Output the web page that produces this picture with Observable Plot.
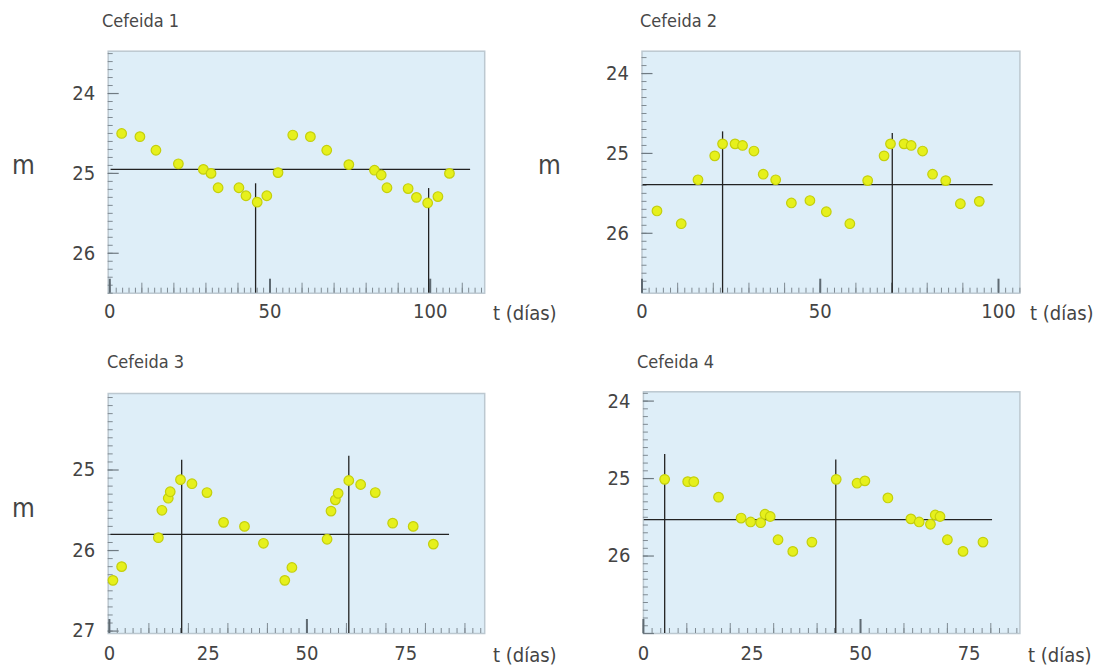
<!DOCTYPE html>
<html><head><meta charset="utf-8">
<script src="https://cdn.jsdelivr.net/npm/d3@7"></script>
<script src="https://cdn.jsdelivr.net/npm/@observablehq/plot@0.6"></script>
<style>
body{margin:0;background:#fff;}
#chart{position:relative;width:1102px;height:667px;overflow:hidden;font-family:"DejaVu Sans Condensed","DejaVu Sans",sans-serif;font-stretch:condensed;color:#3c3c3c;}
.panel{position:absolute;}
.lbl{position:absolute;white-space:nowrap;line-height:1;transform:translateY(-50%);}
.title{font-size:18px;color:#484848;}
.ylab{font-size:26px;color:#444;}
.xlab{font-size:20px;color:#444;}
</style></head><body><div id="chart"></div>
<script>
// ---- data ----
const titles = ["Cefeida 1", "Cefeida 2", "Cefeida 3", "Cefeida 4"];
const yAxisLabel = "m";
const xAxisLabel = "t (días)";

const t1 = [3.7, 9.4, 14.4, 21.4, 29.2, 31.6, 33.8, 40.3, 42.5, 46.0, 49.0, 52.5, 57.1, 62.6, 67.7, 74.6, 82.6, 84.7, 86.5, 93.1, 95.7, 99.2, 102.4, 106.0];
const m1 = [24.50, 24.54, 24.71, 24.88, 24.95, 25.00, 25.18, 25.18, 25.28, 25.36, 25.28, 24.99, 24.52, 24.54, 24.71, 24.89, 24.96, 25.02, 25.18, 25.19, 25.30, 25.37, 25.29, 25.00];

const t2 = [4.2, 11.0, 15.7, 20.4, 22.6, 26.1, 28.2, 31.4, 34.0, 37.5, 41.9, 47.1, 51.7, 58.3, 63.3, 67.9, 69.7, 73.5, 75.5, 78.7, 81.5, 85.2, 89.3, 94.6];
const m2 = [25.72, 25.88, 25.33, 25.03, 24.88, 24.88, 24.90, 24.97, 25.26, 25.33, 25.62, 25.59, 25.73, 25.88, 25.34, 25.03, 24.88, 24.88, 24.90, 24.97, 25.26, 25.34, 25.63, 25.60];

const t3 = [0.9, 3.1, 12.4, 13.3, 14.9, 15.4, 18.0, 20.9, 24.7, 28.9, 34.2, 39.0, 44.4, 46.2, 55.1, 56.1, 57.2, 57.9, 60.6, 63.6, 67.3, 71.7, 76.9, 82.0];
const m3 = [26.37, 26.20, 25.84, 25.50, 25.35, 25.27, 25.12, 25.17, 25.28, 25.65, 25.70, 25.91, 26.37, 26.21, 25.86, 25.51, 25.37, 25.29, 25.13, 25.18, 25.28, 25.66, 25.70, 25.92];

const t4 = [4.9, 10.2, 11.6, 17.3, 22.5, 24.7, 27.0, 28.0, 29.2, 31.0, 34.4, 38.8, 44.4, 49.2, 51.0, 56.3, 61.6, 63.5, 66.1, 67.2, 68.3, 70.0, 73.6, 78.2];
const m4 = [25.01, 25.04, 25.04, 25.24, 25.51, 25.56, 25.57, 25.46, 25.49, 25.79, 25.94, 25.82, 25.01, 25.06, 25.03, 25.25, 25.52, 25.56, 25.59, 25.47, 25.49, 25.79, 25.94, 25.82];

// mean magnitude line: [m, t start, t end]
const meanLine1 = [24.95, 0.4, 112.6];
const meanLine2 = [25.39, 0.3, 98.5];
const meanLine3 = [25.80, 0.4, 86.1];
const meanLine4 = [25.53, 0.2, 80.4];

// period markers: t position and top magnitude
const markT1 = [45.5, 99.5], markM1 = [25.13, 25.19];
const markT2 = [22.6, 70.2], markM2 = [24.73, 24.75];
const markT3 = [18.3, 60.6], markM3 = [24.88, 24.83];
const markT4 = [4.9, 44.3],  markM4 = [24.69, 24.76];

const xDomain1 = [-0.5, 117], yDomain1 = [23.47, 26.5];
const xDomain2 = [0, 106],    yDomain2 = [23.72, 26.75];
const xDomain3 = [-0.3, 95],  yDomain3 = [24.05, 27.03];
const xDomain4 = [0, 86.7],   yDomain4 = [23.88, 27.0];

const xTicks12 = [0, 50, 100];
const xTicks34 = [0, 25, 50, 75];
const yTicks1 = [24, 25, 26], yTicks2 = [24, 25, 26], yTicks3 = [25, 26, 27], yTicks4 = [24, 25, 26];

// ---- layout ----
const panels = [
  {t: t1, m: m1, mean: meanLine1, mt: markT1, mm: markM1, xd: xDomain1, yd: yDomain1, xt: xTicks12, yt: yTicks1,
   box: [0, 0, 551, 333], mg: [50.7, 66.8, 40.3, 107.7], pad: 11,
   title: [102, 21], mlab: [12, 165], tlab: [493, 313]},
  {t: t2, m: m2, mean: meanLine2, mt: markT2, mm: markM2, xd: xDomain2, yd: yDomain2, xt: xTicks12, yt: yTicks2,
   box: [551, 0, 551, 333], mg: [50.7, 82.6, 40.3, 90.5], pad: 11,
   title: [640, 21], mlab: [538, 165], tlab: [1030, 313]},
  {t: t3, m: m3, mean: meanLine3, mt: markT3, mm: markM3, xd: xDomain3, yd: yDomain3, xt: xTicks34, yt: yTicks3,
   box: [0, 333, 551, 334], mg: [60, 66.8, 34, 107.7], pad: 12,
   title: [107, 362], mlab: [12, 508], tlab: [493, 655]},
  {t: t4, m: m4, mean: meanLine4, mt: markT4, mm: markM4, xd: xDomain4, yd: yDomain4, xt: xTicks34, yt: yTicks4,
   box: [551, 333, 551, 334], mg: [58.3, 82.6, 34, 91.9], pad: 12,
   title: [637, 362], mlab: null, tlab: [1028, 655]}
];

const chart = document.getElementById("chart");
const fontFam = '"DejaVu Sans Condensed","DejaVu Sans",sans-serif';

function range(a, b, step) {
  const out = [];
  for (let v = Math.ceil(a / step - 1e-9) * step; v <= b + 1e-9; v += step) out.push(+v.toFixed(4));
  return out;
}

panels.forEach((p, i) => {
  const [left, top, W, H] = p.box;
  const [mt, mr, mb, ml] = p.mg;
  const fw = W - ml - mr, fh = H - mt - mb;
  const dots = p.t.map((t, k) => ({t, m: p.m[k]}));
  const marks = p.mt.map((t, k) => ({t, m: p.mm[k]}));
  const mean = [{m: p.mean[0], t1: p.mean[1], t2: p.mean[2]}];
  const yLo = Math.min(...p.yd), yHi = Math.max(...p.yd);
  const xLo = Math.min(...p.xd), xHi = Math.max(...p.xd);
  const yMinor = range(yLo, yHi, 0.1);
  const yMajor = range(yLo, yHi, 1);
  const xMinor = range(xLo, xHi, 2);
  const xMid = range(xLo, xHi, 10);
  const xMajor = range(xLo, xHi, 50);

  const svg = Plot.plot({
    width: W, height: H,
    marginTop: mt, marginRight: mr, marginBottom: mb, marginLeft: ml,
    x: {domain: p.xd, label: null},
    y: {domain: p.yd, reverse: true, label: null},
    style: {background: "transparent", fontFamily: fontFam, fontSize: "20px", color: "#444", overflow: "visible"},
    marks: [
      Plot.frame({fill: "#deeef8", stroke: "#bcc8d0", strokeWidth: 1.5}),
      Plot.ruleY(yMinor, {y: d => d, stroke: "#7f8a92", strokeWidth: 1, insetRight: fw - 5}),
      Plot.ruleY(yMajor, {y: d => d, stroke: "#6f7a82", strokeWidth: 1.2, insetRight: fw - 11}),
      Plot.ruleX(xMinor, {x: d => d, stroke: "#7f8a92", strokeWidth: 1, insetTop: fh - 5}),
      Plot.ruleX(xMid, {x: d => d, stroke: "#7f8a92", strokeWidth: 1, insetTop: fh - 10}),
      Plot.ruleX(xMajor, {x: d => d, stroke: "#5f6a72", strokeWidth: 2, insetTop: fh - 14}),
      Plot.axisX(p.xt, {tickSize: 0, tickPadding: p.pad, label: null, fontSize: 20, tickFormat: d3.format("d")}),
      Plot.axisY(p.yt, {tickSize: 0, tickPadding: 13, label: null, fontSize: 20, tickFormat: d3.format("d")}),
      Plot.ruleY(mean, {y: "m", x1: "t1", x2: "t2", stroke: "#222", strokeWidth: 1.3}),
      Plot.ruleX(marks, {x: "t", y1: "m", y2: () => yHi, stroke: "#222", strokeWidth: 1.3}),
      Plot.dot(dots, {x: "t", y: "m", r: 4.8, fill: "#e6f01c", stroke: "#c4cf0c", strokeWidth: 1.2})
    ]
  });
  const wrap = document.createElement("div");
  wrap.className = "panel";
  wrap.style.left = left + "px";
  wrap.style.top = top + "px";
  wrap.appendChild(svg);
  chart.appendChild(wrap);

  const addLabel = (txt, pos, cls) => {
    const d = document.createElement("div");
    d.className = "lbl " + cls;
    d.textContent = txt;
    d.style.left = pos[0] + "px";
    d.style.top = pos[1] + "px";
    chart.appendChild(d);
  };
  addLabel(titles[i], p.title, "title");
  if (p.mlab) addLabel(yAxisLabel, p.mlab, "ylab");
  addLabel(xAxisLabel, p.tlab, "xlab");
});
</script>
</body></html>
